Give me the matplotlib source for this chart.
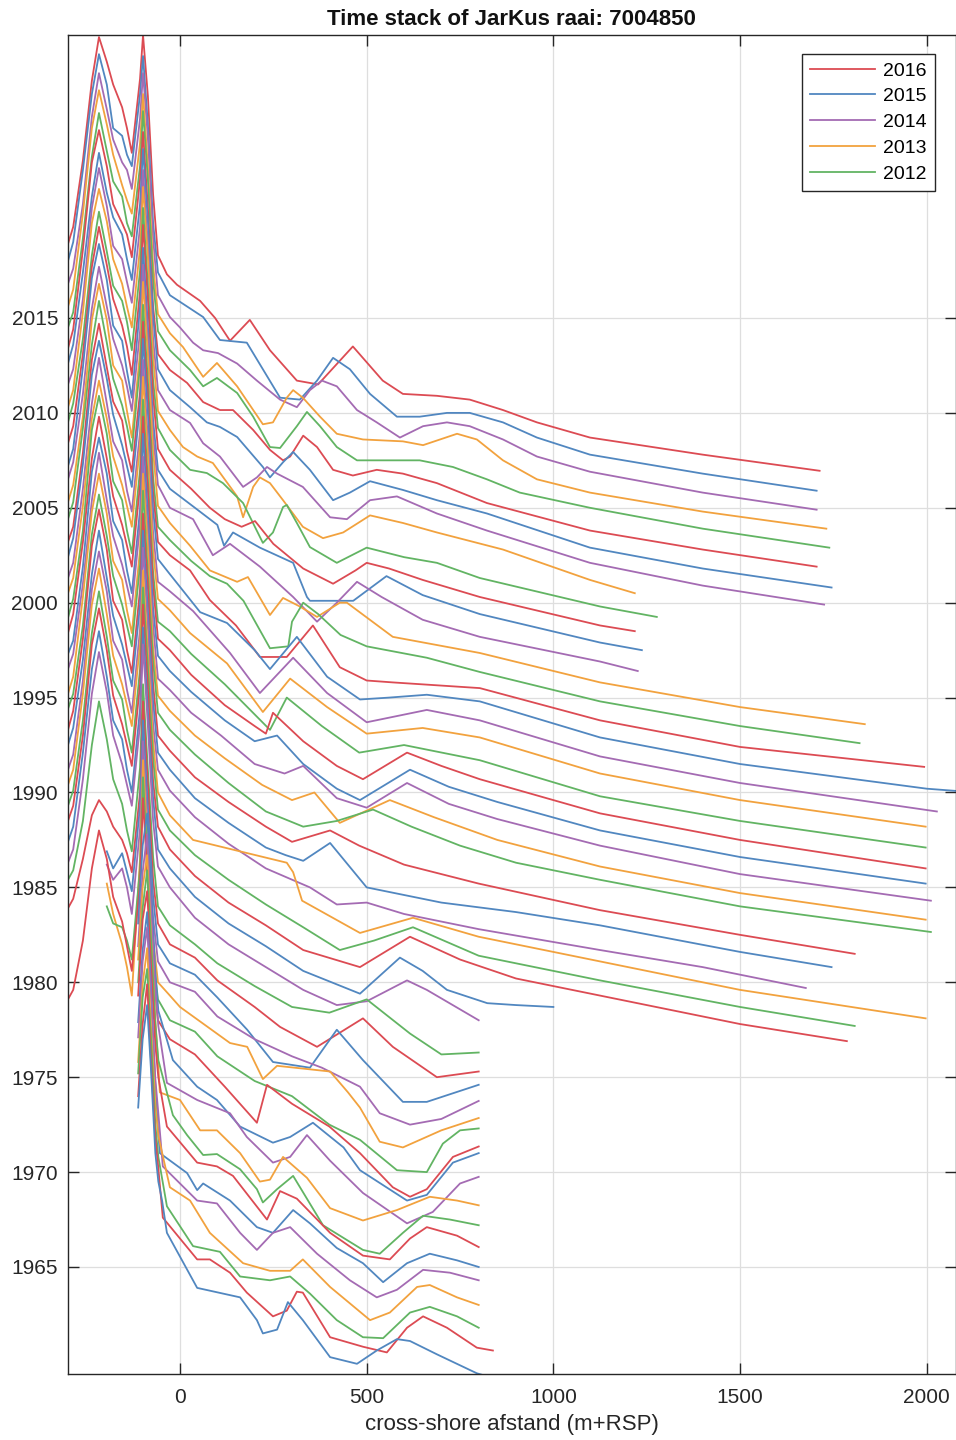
import matplotlib
matplotlib.use("Agg")
import matplotlib.pyplot as plt

plt.rcParams['font.family'] = ['Liberation Sans', 'DejaVu Sans']

# ---------------- data: elevation z (m) along cross-shore distance x (m) ----------------
# plotted as year + z
dune_x = [-300, -286, -260, -236, -217, -196, -179, -155, -142, -129, -107, -99, -86, -72, -59]
dune_x_mid = [-196, -179, -155, -142, -129, -107, -99, -86, -72, -59]
dune_x_old = [-112, -100, -88, -78, -66, -58]

dune_z_2016 = [2.9, 3.8, 7.3, 11.5, 13.8, 12.5, 11.3, 10.1, 9.0, 7.7, 11.6, 13.9, 10.7, 5.5, 2.3]
sea_x_2016 = [-35, -8, 54, 94, 134, 187, 241, 313, 370, 463, 543, 597, 688, 776, 865, 956, 1098, 1400, 1713]
sea_z_2016 = [1.3, 0.75, -0.1, -1.0, -2.2, -1.1, -2.7, -4.3, -4.5, -2.5, -4.3, -5.0, -5.1, -5.3, -5.85, -6.5, -7.3, -8.2, -9.05]

dune_z_2015 = [3.0, 4.0, 7.8, 11.8, 13.9, 12.3, 10.0, 9.6, 8.6, 8.0, 11.8, 13.8, 10.2, 5.0, 2.4]
sea_x_2015 = [-27, 62, 107, 179, 268, 321, 367, 410, 455, 509, 581, 642, 715, 776, 865, 956, 1098, 1400, 1705]
sea_z_2015 = [1.2, 0.05, -1.16, -1.3, -4.2, -4.3, -3.3, -2.1, -2.7, -4.0, -5.2, -5.2, -5.0, -5.0, -5.5, -6.3, -7.2, -8.2, -9.1]

dune_z_2014 = [2.8, 3.6, 7.0, 11.6, 13.9, 12.0, 10.4, 9.2, 8.8, 7.8, 11.5, 13.9, 10.5, 5.2, 2.2]
sea_x_2014 = [-27, 0, 35, 62, 102, 153, 206, 268, 313, 348, 380, 420, 474, 527, 589, 651, 715, 776, 865, 956, 1098, 1400, 1705]
sea_z_2014 = [1.05, 0.5, -0.3, -0.7, -0.85, -1.4, -2.3, -3.3, -3.7, -2.8, -2.3, -2.6, -3.85, -4.5, -5.3, -4.7, -4.5, -4.7, -5.4, -6.3, -7.1, -8.2, -9.1]

dune_z_2013 = [2.6, 3.5, 7.5, 12.0, 14.0, 12.2, 10.6, 9.0, 8.2, 7.5, 11.2, 13.8, 10.0, 4.8, 2.2]
sea_x_2013 = [-27, 8, 62, 99, 153, 222, 249, 286, 303, 329, 375, 420, 490, 597, 651, 742, 795, 865, 956, 1098, 1400, 1731]
sea_z_2013 = [1.2, 0.47, -1.1, -0.37, -1.6, -3.6, -3.5, -2.2, -1.8, -2.2, -3.2, -4.1, -4.4, -4.5, -4.7, -4.1, -4.4, -5.5, -6.5, -7.2, -8.2, -9.1]

dune_z_2012 = [2.5, 3.3, 7.2, 11.5, 13.8, 11.8, 10.2, 9.4, 8.0, 7.3, 11.0, 13.9, 10.3, 5.0, 2.3]
sea_x_2012 = [-27, 27, 62, 99, 153, 196, 241, 268, 313, 340, 375, 420, 474, 554, 642, 731, 822, 910, 1098, 1400, 1739]
sea_z_2012 = [1.3, 0.26, -0.6, -0.16, -0.95, -2.2, -3.8, -3.85, -2.7, -1.95, -2.7, -3.8, -4.5, -4.5, -4.5, -4.85, -5.5, -6.2, -7.0, -8.1, -9.1]

dune_z_2011 = [2.4, 3.4, 7.6, 12.2, 13.9, 12.0, 10.0, 9.0, 8.4, 7.2, 11.3, 13.8, 9.8, 4.6, 2.1]
sea_x_2011 = [-27, 19, 62, 107, 142, 196, 241, 276, 295, 330, 367, 410, 463, 527, 597, 688, 822, 1098, 1400, 1705]
sea_z_2011 = [1.26, 0.58, -0.43, -0.85, -0.85, -1.9, -2.95, -3.5, -3.3, -2.2, -2.8, -4.0, -4.3, -4.0, -4.2, -4.7, -5.75, -7.2, -8.2, -9.1]

dune_z_2010 = [2.6, 3.6, 7.4, 11.4, 13.7, 11.6, 10.3, 9.4, 8.1, 7.0, 11.0, 13.9, 10.1, 5.1, 2.3]
sea_x_2010 = [-27, 27, 72, 107, 153, 222, 241, 276, 303, 348, 410, 455, 509, 597, 688, 822, 1098, 1400, 1745]
sea_z_2010 = [1.2, 0.3, -0.5, -0.74, -1.27, -2.85, -3.4, -2.6, -2.06, -3.0, -4.6, -4.2, -3.6, -4.06, -4.6, -5.3, -7.1, -8.2, -9.2]

dune_z_2009 = [2.5, 3.3, 7.0, 11.8, 13.9, 11.9, 9.8, 9.1, 7.9, 6.8, 10.8, 13.8, 9.9, 4.9, 2.2]
sea_x_2009 = [-27, 27, 62, 107, 169, 206, 233, 260, 329, 402, 447, 509, 581, 688, 822, 1098, 1400, 1725]
sea_z_2009 = [1.15, 0.47, -0.6, -1.3, -2.9, -2.4, -1.85, -2.2, -2.9, -4.5, -4.6, -3.6, -3.4, -4.3, -5.2, -6.9, -8.1, -9.1]

dune_z_2008 = [2.3, 3.2, 7.3, 12.0, 13.8, 12.1, 10.1, 8.8, 7.6, 6.5, 10.7, 13.9, 10.2, 5.0, 2.1]
sea_x_2008 = [-27, 8, 46, 88, 153, 169, 196, 214, 241, 276, 329, 383, 437, 509, 597, 688, 865, 1098, 1218]
sea_z_2008 = [1.1, 0.2, -0.3, -0.64, -2.4, -3.5, -1.9, -1.4, -1.7, -2.6, -4.0, -4.6, -4.3, -3.4, -3.8, -4.3, -5.2, -6.8, -7.5]

dune_z_2007 = [2.5, 3.5, 6.9, 11.3, 13.6, 11.5, 9.7, 8.9, 7.8, 6.3, 10.5, 13.8, 9.7, 4.7, 2.2]
sea_x_2007 = [-27, 27, 72, 115, 169, 222, 249, 276, 286, 313, 348, 420, 500, 600, 688, 803, 1125, 1277]
sea_z_2007 = [1.05, 0.0, -0.17, -0.7, -1.75, -3.85, -3.3, -1.96, -1.85, -2.8, -4.07, -4.9, -4.1, -4.6, -4.9, -5.7, -7.2, -7.75]

dune_z_2006 = [2.4, 3.3, 7.1, 11.7, 13.8, 11.8, 10.0, 8.6, 7.5, 6.0, 10.4, 13.9, 10.0, 4.9, 2.1]
sea_x_2006 = [-27, 30, 80, 120, 165, 201, 250, 330, 410, 470, 500, 560, 650, 803, 1125, 1218]
sea_z_2006 = [1.0, 0.0, -1.0, -1.6, -2.0, -1.7, -2.9, -4.2, -5.0, -4.3, -3.9, -4.2, -4.8, -5.7, -7.2, -7.5]

dune_z_2005 = [2.2, 3.1, 7.4, 12.1, 13.9, 12.0, 9.6, 8.8, 7.2, 5.8, 10.6, 13.7, 9.6, 4.6, 2.0]
sea_x_2005 = [-27, 40, 100, 118, 142, 214, 303, 340, 348, 464, 553, 650, 803, 1125, 1237]
sea_z_2005 = [1.0, 0.0, -0.9, -2.0, -1.3, -2.1, -2.9, -4.7, -4.9, -4.9, -3.6, -4.6, -5.6, -7.1, -7.5]

dune_z_2004 = [2.5, 3.4, 7.0, 11.5, 13.7, 11.6, 9.9, 8.5, 7.4, 6.1, 10.3, 13.8, 9.9, 4.8, 2.2]
sea_x_2004 = [-27, 35, 88, 134, 214, 303, 367, 420, 474, 540, 650, 803, 1125, 1226]
sea_z_2004 = [1.0, 0.4, -1.5, -0.9, -2.1, -3.7, -5.0, -4.0, -2.9, -3.7, -4.9, -5.8, -7.1, -7.6]

dune_z_2003 = [2.3, 3.2, 6.8, 11.9, 13.8, 11.9, 9.5, 8.7, 7.1, 5.7, 10.2, 13.9, 10.1, 5.0, 2.1]
sea_x_2003 = [-27, 27, 80, 153, 182, 241, 276, 321, 367, 428, 447, 570, 803, 1125, 1500, 1834]
sea_z_2003 = [1.2, 0.0, -1.3, -1.9, -1.65, -3.65, -2.75, -3.2, -3.75, -3.0, -3.0, -4.8, -5.65, -7.2, -8.5, -9.4]

dune_z_2002 = [2.4, 3.3, 7.2, 11.6, 13.9, 11.7, 9.8, 8.4, 7.3, 6.0, 10.5, 13.7, 9.7, 4.6, 2.0]
sea_x_2002 = [-27, 30, 80, 126, 170, 241, 290, 300, 330, 370, 430, 500, 661, 803, 1125, 1500, 1820]
sea_z_2002 = [1.3, 0.2, -0.6, -1.0, -1.9, -4.4, -4.3, -3.0, -2.0, -2.6, -3.7, -4.3, -4.9, -5.65, -7.2, -8.5, -9.4]

dune_z_2001 = [2.2, 3.0, 6.9, 11.8, 13.7, 11.4, 9.6, 8.6, 7.0, 5.9, 10.1, 13.8, 9.9, 4.8, 2.2]
sea_x_2001 = [-27, 27, 80, 150, 214, 286, 356, 428, 500, 570, 803, 1125, 1500, 1993]
sea_z_2001 = [1.5, 0.7, -0.86, -2.2, -3.86, -3.86, -2.2, -4.4, -5.1, -5.2, -5.5, -7.2, -8.6, -9.65]

dune_z_2000 = [2.4, 3.4, 7.3, 12.0, 13.8, 11.8, 9.9, 8.3, 7.2, 6.1, 10.4, 13.9, 10.0, 4.9, 2.3]
sea_x_2000 = [-27, 54, 126, 200, 241, 313, 394, 482, 560, 661, 803, 1125, 1500, 2000, 2100]
sea_z_2000 = [1.5, -0.5, -1.07, -2.5, -3.5, -1.8, -3.9, -5.1, -5.0, -4.85, -5.2, -7.1, -8.5, -9.8, -9.95]

dune_z_1999 = [2.3, 3.1, 7.0, 11.5, 13.9, 11.5, 9.5, 8.5, 6.9, 5.8, 10.0, 13.8, 9.6, 4.7, 2.1]
sea_x_1999 = [-27, 35, 134, 214, 303, 394, 500, 661, 803, 1125, 1500, 2027]
sea_z_1999 = [1.6, 0.56, -1.65, -3.76, -1.9, -3.76, -5.3, -4.65, -5.2, -7.1, -8.5, -10.0]

dune_z_1998 = [2.5, 3.3, 7.1, 11.7, 13.7, 11.7, 9.7, 8.2, 7.1, 6.0, 10.3, 13.9, 9.8, 4.8, 2.2]
sea_x_1998 = [-27, 27, 126, 222, 295, 394, 500, 650, 803, 1125, 1500, 1997]
sea_z_1998 = [1.6, 0.4, -1.2, -3.76, -2.0, -3.5, -4.9, -4.6, -5.1, -7.0, -8.4, -9.8]

dune_z_1997 = [2.2, 3.2, 6.8, 12.1, 13.9, 11.9, 9.4, 8.4, 6.8, 5.6, 10.0, 13.7, 9.5, 4.6, 2.0]
sea_x_1997 = [-27, 30, 120, 241, 286, 380, 480, 600, 803, 1125, 1500, 1997]
sea_z_1997 = [1.5, 0.3, -1.3, -3.7, -2.0, -3.5, -4.9, -4.5, -5.3, -7.2, -8.5, -9.9]

dune_z_1996 = [2.4, 3.4, 7.2, 11.6, 13.8, 11.6, 9.6, 8.1, 7.0, 5.9, 10.2, 13.8, 9.9, 4.9, 2.1]
sea_x_1996 = [-27, 30, 120, 200, 230, 249, 330, 420, 490, 608, 700, 803, 1125, 1500, 1997]
sea_z_1996 = [1.5, 0.2, -1.4, -2.5, -2.9, -1.8, -3.3, -4.6, -5.3, -3.9, -4.6, -5.3, -7.1, -8.5, -10.0]

dune_z_1995 = [2.3, 3.0, 6.9, 11.9, 13.7, 11.8, 9.3, 8.3, 6.7, 5.5, 9.9, 13.9, 9.7, 4.7, 2.2]
sea_x_1995 = [-27, 30, 120, 200, 260, 330, 420, 482, 616, 720, 850, 1125, 1500, 1997]
sea_z_1995 = [1.4, 0.3, -1.2, -2.3, -2.0, -3.5, -4.8, -5.4, -3.8, -4.7, -5.5, -7.0, -8.4, -9.8]

dune_z_1994 = [2.5, 3.3, 7.0, 11.4, 13.9, 11.4, 9.5, 8.0, 6.9, 5.8, 10.1, 13.7, 9.6, 4.8, 2.0]
sea_x_1994 = [-27, 30, 110, 200, 280, 330, 420, 500, 608, 720, 850, 1125, 1500, 2011]
sea_z_1994 = [1.4, 0.2, -1.0, -2.5, -3.0, -2.6, -4.3, -4.8, -3.5, -4.6, -5.4, -6.8, -8.3, -9.7]

dune_z_1993 = [2.2, 3.1, 7.3, 11.8, 13.8, 11.7, 9.2, 8.2, 6.6, 5.4, 9.8, 13.8, 9.9, 4.6, 2.1]
sea_x_1993 = [-27, 40, 120, 220, 300, 360, 428, 562, 680, 850, 1125, 1500, 1997]
sea_z_1993 = [1.3, 0.0, -1.2, -2.6, -3.4, -3.0, -4.6, -3.4, -4.3, -5.5, -6.9, -8.3, -9.7]

dune_z_1992 = [2.4, 3.2, 6.8, 11.6, 13.7, 11.5, 9.4, 7.9, 6.8, 5.7, 10.0, 13.9, 9.5, 4.9, 2.2]
sea_x_1992 = [-27, 40, 130, 230, 330, 420, 517, 620, 750, 900, 1125, 1500, 2011]
sea_z_1992 = [1.3, 0.0, -1.5, -3.0, -3.8, -3.5, -2.9, -3.8, -4.8, -5.7, -6.6, -8.0, -9.35]

dune_z_1991 = [2.3, 3.3, 7.1, 12.0, 13.9, 11.8, 9.1, 8.1, 6.5, 5.3, 9.7, 13.7, 9.8, 4.7, 2.0]
sea_x_1991 = [-27, 40, 130, 230, 300, 402, 480, 600, 800, 1125, 1500, 1807]
sea_z_1991 = [1.2, -0.2, -1.5, -2.8, -3.6, -3.0, -3.8, -4.8, -5.8, -7.2, -8.5, -9.5]

dune_z_1990 = [2.5, 3.4, 7.0, 11.5, 13.8, 11.3, 9.3, 7.8, 6.7, 5.6, 9.9, 13.8, 9.6, 4.8, 2.1]
sea_x_1990 = [-27, 40, 130, 230, 283, 330, 402, 500, 700, 900, 1125, 1500, 1745]
sea_z_1990 = [1.2, -0.3, -1.6, -2.9, -3.3, -3.6, -2.66, -5.0, -5.8, -6.3, -7.0, -8.4, -9.2]

dune_z_1989 = [2.2, 3.0, 6.9, 11.7, 13.7, 11.6, 9.0, 8.0, 6.4, 5.2, 9.6, 13.9, 9.7, 4.6, 2.2]
sea_x_1989 = [-27, 40, 130, 230, 348, 420, 500, 600, 800, 1125, 1400, 1676]
sea_z_1989 = [1.1, -0.3, -1.7, -3.0, -4.0, -4.9, -4.8, -5.4, -6.2, -7.3, -8.2, -9.3]

dune_z_1988 = [2.4, 3.2, 7.2, 11.9, 13.8, 11.4, 9.2, 7.7, 6.6, 5.5, 9.8, 13.7, 9.4, 4.7, 2.0]
sea_x_1988 = [-27, 35, 286, 303, 327, 482, 624, 800, 1125, 1500, 1997]
sea_z_1988 = [0.8, -0.5, -1.7, -2.2, -3.7, -5.4, -4.6, -5.6, -6.9, -8.4, -9.9]

dune_z_1987 = [2.3, 3.1, 6.8, 11.4, 13.6, 11.2, 8.9, 7.9, 6.3, 5.1, 9.5, 13.8, 9.6, 4.8, 2.1]
sea_x_1987 = [-27, 40, 130, 230, 330, 428, 520, 624, 800, 1125, 1500, 1807]
sea_z_1987 = [1.0, -0.3, -1.6, -2.9, -4.1, -5.3, -4.8, -4.1, -5.6, -6.9, -8.3, -9.3]

dune_z_1986 = [2.5, 3.3, 7.0, 11.8, 13.7, 11.5, 9.1, 7.6, 6.5, 5.4, 9.7, 13.9, 9.5, 4.6, 2.2]
sea_x_1986 = [-27, 40, 130, 230, 330, 482, 616, 750, 900, 1125, 1500, 1786]
sea_z_1986 = [1.0, -0.4, -1.8, -3.0, -4.3, -5.2, -3.6, -4.8, -5.8, -6.7, -8.2, -9.1]

dune_z_1985 = [2.4, 3.2, 7.1, 11.5, 13.5, 11.1, 8.8, 7.8, 6.2, 5.0, 9.4, 13.7, 9.3, 4.7, 2.0]
sea_x_1985 = [-27, 40, 130, 230, 330, 482, 589, 650, 715, 823, 900, 1000]
sea_z_1985 = [1.0, -0.5, -1.9, -3.1, -4.4, -5.6, -3.7, -4.4, -5.4, -6.1, -6.2, -6.3]

dune_z_1984 = [2.3, 3.0, 6.7, 11.2, 13.4, 11.3, 9.0, 7.5, 6.4, 5.3, 9.6, 13.8, 9.5, 4.5, 2.1]
sea_x_1984 = [-27, 40, 130, 230, 330, 420, 500, 608, 661, 800]
sea_z_1984 = [1.0, -0.6, -2.0, -3.2, -4.4, -5.2, -5.0, -3.9, -4.4, -6.0]

dune_z_1982 = [3.4, 3.9, 6.5, 10.5, 12.8, 10.8, 8.7, 7.4, 6.0, 4.9, 9.3, 13.7, 9.2, 4.6, 2.0]
sea_x_1982 = [-27, 40, 100, 200, 300, 400, 500, 616, 700, 800]
sea_z_1982 = [1.0, 0.0, -1.0, -2.2, -3.3, -3.6, -2.9, -4.7, -5.8, -5.7]

dune_z_1981 = [2.9, 3.4, 5.5, 7.8, 8.6, 8.0, 7.2, 6.5, 5.8, 4.8, 9.0, 13.8, 9.4, 4.4, 2.1]
sea_x_1981 = [-27, 40, 100, 200, 268, 367, 490, 570, 688, 800]
sea_z_1981 = [1.0, 0.3, -0.9, -2.3, -3.35, -4.4, -2.9, -4.4, -6.0, -5.7]

dune_z_1980 = [6.9, 6.0, 6.8, 5.8, 4.8, 9.3, 13.8, 9.2, 4.5, 2.0]
sea_x_1980 = [-27, 40, 100, 180, 249, 348, 420, 490, 597, 661, 800]
sea_z_1980 = [1.0, 0.4, -0.8, -2.5, -4.2, -4.5, -2.5, -4.1, -6.3, -6.3, -5.4]

dune_z_1979 = [7.2, 6.4, 7.0, 6.0, 4.6, 9.1, 13.7, 9.0, 4.4, 2.1]
sea_x_1979 = [-27, 40, 100, 200, 300, 380, 482, 535, 616, 700, 800]
sea_z_1979 = [1.0, 0.5, -0.8, -2.0, -2.9, -3.5, -4.5, -5.9, -6.5, -6.2, -5.25]

dune_z_1978 = [7.2, 5.6, 4.0, 2.8, 1.3, 8.5, 13.7, 9.0, 4.3, 2.0]
sea_x_1978 = [-27, 0, 134, 180, 222, 260, 402, 450, 482, 535, 597, 700, 800]
sea_z_1978 = [1.3, 0.7, -1.2, -1.4, -3.1, -2.4, -2.7, -3.8, -4.6, -6.4, -6.7, -5.8, -5.15]

dune_z_1977 = [7.0, 6.1, 5.9, 5.2, 4.2, 9.0, 13.8, 9.1, 4.4, 2.1]
sea_x_1977 = [-27, 40, 100, 200, 300, 400, 482, 581, 661, 704, 750, 800]
sea_z_1977 = [1.0, 0.4, -0.9, -2.2, -3.0, -4.5, -5.3, -6.9, -7.0, -5.5, -4.8, -4.7]

dune_z_1976 = [3.1, 3.6, 6.2, 10.0, 12.0, 10.5, 8.5, 7.2, 5.9, 4.6, 9.2, 13.7, 9.1, 4.5, 2.0]
sea_x_1976 = [-27, 40, 120, 206, 233, 300, 400, 482, 570, 616, 661, 731, 800]
sea_z_1976 = [1.0, 0.2, -1.5, -3.4, -1.4, -2.4, -3.6, -5.0, -6.8, -7.3, -6.9, -5.2, -4.65]

dune_z_1975 = [8.1, 12.2, 13.9, 10.2, 5.5, 3.5]
sea_x_1975 = [-19, 46, 99, 161, 249, 295, 356, 438, 482, 608, 661, 731, 800]
sea_z_1975 = [0.9, -0.5, -1.2, -2.6, -3.45, -3.15, -2.4, -3.7, -4.9, -6.5, -6.2, -4.5, -4.0]

dune_z_1974 = [7.9, 11.8, 13.8, 10.0, 5.6, 3.7]
sea_x_1974 = [-35, 46, 134, 179, 249, 295, 340, 402, 490, 608, 677, 750, 800]
sea_z_1974 = [0.7, -0.2, -0.9, -2.15, -3.5, -3.2, -2.05, -3.4, -5.1, -6.7, -6.1, -4.6, -4.25]

dune_z_1973 = [8.2, 12.0, 13.7, 9.7, 5.0, 2.6]
sea_x_1973 = [-54, 0, 54, 99, 161, 214, 241, 276, 340, 402, 490, 581, 669, 742, 800]
sea_z_1973 = [1.2, 0.8, -0.8, -0.8, -2.0, -3.5, -3.4, -2.2, -3.3, -4.9, -5.55, -5.0, -4.3, -4.5, -4.75]

dune_z_1972 = [8.0, 11.9, 13.9, 10.4, 5.8, 3.9]
sea_x_1972 = [-19, 19, 62, 99, 161, 206, 222, 260, 303, 383, 490, 535, 597, 651, 723, 800]
sea_z_1972 = [1.0, -0.05, -1.1, -1.05, -1.85, -2.9, -3.6, -2.9, -2.2, -4.8, -6.1, -6.3, -5.2, -4.3, -4.5, -4.8]

dune_z_1971 = [8.3, 12.3, 13.8, 10.1, 5.7, 4.0]
sea_x_1971 = [-35, 46, 99, 142, 233, 268, 313, 402, 490, 562, 616, 661, 742, 800]
sea_z_1971 = [1.4, -0.5, -0.7, -1.2, -3.5, -2.0, -2.4, -4.2, -5.4, -5.6, -4.5, -3.9, -4.35, -4.95]

dune_z_1970 = [7.9, 11.7, 13.7, 9.9, 4.5, 2.0]
sea_x_1970 = [-54, 19, 46, 62, 134, 206, 249, 303, 348, 420, 490, 544, 608, 669, 742, 800]
sea_z_1970 = [1.0, -0.05, -0.95, -0.6, -1.5, -2.9, -3.2, -2.0, -2.7, -4.0, -4.8, -5.8, -4.8, -4.3, -4.65, -5.0]

dune_z_1969 = [8.1, 12.1, 13.9, 10.3, 5.9, 4.1]
sea_x_1969 = [-46, 46, 99, 161, 206, 249, 295, 367, 455, 527, 581, 651, 723, 800]
sea_z_1969 = [1.3, -0.5, -0.65, -2.2, -3.1, -2.2, -1.9, -3.3, -4.7, -5.6, -5.2, -4.15, -4.3, -4.7]

dune_z_1968 = [7.8, 11.9, 13.8, 9.8, 5.6, 3.9]
sea_x_1968 = [-27, 27, 80, 169, 241, 295, 329, 402, 509, 562, 635, 669, 742, 800]
sea_z_1968 = [1.2, 0.5, -1.2, -2.8, -3.2, -3.2, -2.6, -4.05, -5.8, -5.4, -4.05, -3.95, -4.6, -5.0]

dune_z_1967 = [8.2, 12.2, 13.7, 10.2, 5.5, 3.8]
sea_x_1967 = [-35, 35, 107, 161, 241, 295, 348, 420, 490, 544, 616, 669, 742, 800]
sea_z_1967 = [1.2, -0.9, -1.2, -2.5, -2.7, -2.5, -3.4, -4.8, -5.7, -5.75, -4.4, -4.1, -4.6, -5.2]

dune_z_1966 = [8.0, 11.8, 13.9, 10.0, 5.8, 4.2]
sea_x_1966 = [-46, 46, 80, 134, 179, 249, 286, 313, 329, 402, 490, 554, 608, 651, 715, 795, 838]
sea_z_1966 = [1.6, -0.6, -0.6, -1.3, -2.35, -3.6, -3.3, -2.3, -2.35, -4.7, -5.2, -5.5, -4.2, -3.6, -4.2, -5.25, -5.4]

dune_z_1965 = [8.4, 12.0, 13.8, 10.5, 6.0, 4.5]
sea_x_1965 = [-48, -35, 46, 161, 206, 222, 260, 289, 329, 402, 474, 527, 581, 616, 688, 795, 830]
sea_z_1965 = [3.5, 1.8, -1.1, -1.6, -2.8, -3.5, -3.3, -1.85, -2.8, -4.75, -5.1, -4.4, -3.8, -3.9, -4.6, -5.6, -5.8]

profiles = [
    (2016, dune_x, dune_z_2016, sea_x_2016, sea_z_2016),
    (2015, dune_x, dune_z_2015, sea_x_2015, sea_z_2015),
    (2014, dune_x, dune_z_2014, sea_x_2014, sea_z_2014),
    (2013, dune_x, dune_z_2013, sea_x_2013, sea_z_2013),
    (2012, dune_x, dune_z_2012, sea_x_2012, sea_z_2012),
    (2011, dune_x, dune_z_2011, sea_x_2011, sea_z_2011),
    (2010, dune_x, dune_z_2010, sea_x_2010, sea_z_2010),
    (2009, dune_x, dune_z_2009, sea_x_2009, sea_z_2009),
    (2008, dune_x, dune_z_2008, sea_x_2008, sea_z_2008),
    (2007, dune_x, dune_z_2007, sea_x_2007, sea_z_2007),
    (2006, dune_x, dune_z_2006, sea_x_2006, sea_z_2006),
    (2005, dune_x, dune_z_2005, sea_x_2005, sea_z_2005),
    (2004, dune_x, dune_z_2004, sea_x_2004, sea_z_2004),
    (2003, dune_x, dune_z_2003, sea_x_2003, sea_z_2003),
    (2002, dune_x, dune_z_2002, sea_x_2002, sea_z_2002),
    (2001, dune_x, dune_z_2001, sea_x_2001, sea_z_2001),
    (2000, dune_x, dune_z_2000, sea_x_2000, sea_z_2000),
    (1999, dune_x, dune_z_1999, sea_x_1999, sea_z_1999),
    (1998, dune_x, dune_z_1998, sea_x_1998, sea_z_1998),
    (1997, dune_x, dune_z_1997, sea_x_1997, sea_z_1997),
    (1996, dune_x, dune_z_1996, sea_x_1996, sea_z_1996),
    (1995, dune_x, dune_z_1995, sea_x_1995, sea_z_1995),
    (1994, dune_x, dune_z_1994, sea_x_1994, sea_z_1994),
    (1993, dune_x, dune_z_1993, sea_x_1993, sea_z_1993),
    (1992, dune_x, dune_z_1992, sea_x_1992, sea_z_1992),
    (1991, dune_x, dune_z_1991, sea_x_1991, sea_z_1991),
    (1990, dune_x, dune_z_1990, sea_x_1990, sea_z_1990),
    (1989, dune_x, dune_z_1989, sea_x_1989, sea_z_1989),
    (1988, dune_x, dune_z_1988, sea_x_1988, sea_z_1988),
    (1987, dune_x, dune_z_1987, sea_x_1987, sea_z_1987),
    (1986, dune_x, dune_z_1986, sea_x_1986, sea_z_1986),
    (1985, dune_x, dune_z_1985, sea_x_1985, sea_z_1985),
    (1984, dune_x, dune_z_1984, sea_x_1984, sea_z_1984),
    (1982, dune_x, dune_z_1982, sea_x_1982, sea_z_1982),
    (1981, dune_x, dune_z_1981, sea_x_1981, sea_z_1981),
    (1980, dune_x_mid, dune_z_1980, sea_x_1980, sea_z_1980),
    (1979, dune_x_mid, dune_z_1979, sea_x_1979, sea_z_1979),
    (1978, dune_x_mid, dune_z_1978, sea_x_1978, sea_z_1978),
    (1977, dune_x_mid, dune_z_1977, sea_x_1977, sea_z_1977),
    (1976, dune_x, dune_z_1976, sea_x_1976, sea_z_1976),
    (1975, dune_x_old, dune_z_1975, sea_x_1975, sea_z_1975),
    (1974, dune_x_old, dune_z_1974, sea_x_1974, sea_z_1974),
    (1973, dune_x_old, dune_z_1973, sea_x_1973, sea_z_1973),
    (1972, dune_x_old, dune_z_1972, sea_x_1972, sea_z_1972),
    (1971, dune_x_old, dune_z_1971, sea_x_1971, sea_z_1971),
    (1970, dune_x_old, dune_z_1970, sea_x_1970, sea_z_1970),
    (1969, dune_x_old, dune_z_1969, sea_x_1969, sea_z_1969),
    (1968, dune_x_old, dune_z_1968, sea_x_1968, sea_z_1968),
    (1967, dune_x_old, dune_z_1967, sea_x_1967, sea_z_1967),
    (1966, dune_x_old, dune_z_1966, sea_x_1966, sea_z_1966),
    (1965, dune_x_old, dune_z_1965, sea_x_1965, sea_z_1965),
]

legend_years = [2016, 2015, 2014, 2013, 2012]
x_ticks = [0, 500, 1000, 1500, 2000]
y_ticks = [1965, 1970, 1975, 1980, 1985, 1990, 1995, 2000, 2005, 2010, 2015]

# colour cycle by year (mod 5)
cycle_colors = {1: '#dc4b53', 0: '#5187c0', 4: '#a46bb3', 3: '#f2a23e', 2: '#62b463'}

# ---------------- figure ----------------
fig = plt.figure(figsize=(9.56, 14.40), dpi=100)
ax = fig.add_axes([0.0711, 0.0458, 0.9284, 0.9299])

for year, dx, dz, sx, sz in profiles:
    xs = list(dx) + list(sx)
    ys = [year + z for z in list(dz) + list(sz)]
    ax.plot(xs, ys, color=cycle_colors[year % 5], lw=1.3,
            label=str(year) if year in legend_years else None,
            solid_joinstyle='round')

ax.set_xlim(-300, 2077)
ax.set_ylim(1959.36, 2029.91)
ax.set_xticks(x_ticks)
ax.set_yticks(y_ticks)
ax.grid(True, color='#dedede', lw=0.9)
ax.set_axisbelow(True)
ax.tick_params(direction='in', length=8, width=1.0, top=True, right=True,
               labelsize=15, colors='#262626')
ax.tick_params(axis='x', pad=10)
ax.tick_params(axis='y', pad=7)
for s in ax.spines.values():
    s.set_color('#262626')
    s.set_linewidth(1.0)

ax.set_title('Time stack of JarKus raai: 7004850', fontsize=16,
             fontweight='bold', color='#111111', pad=7)
ax.set_xlabel('cross-shore afstand (m+RSP)', fontsize=16, color='#262626', labelpad=5)

leg = ax.legend(loc='upper right', bbox_to_anchor=(0.977, 0.986), borderaxespad=0,
                fancybox=False, edgecolor='#262626', framealpha=1, fontsize=14,
                handlelength=3.3, labelspacing=0.42, borderpad=0.42, handletextpad=0.45)
leg.get_frame().set_linewidth(1.0)

fig.savefig('out.png', dpi=100)
